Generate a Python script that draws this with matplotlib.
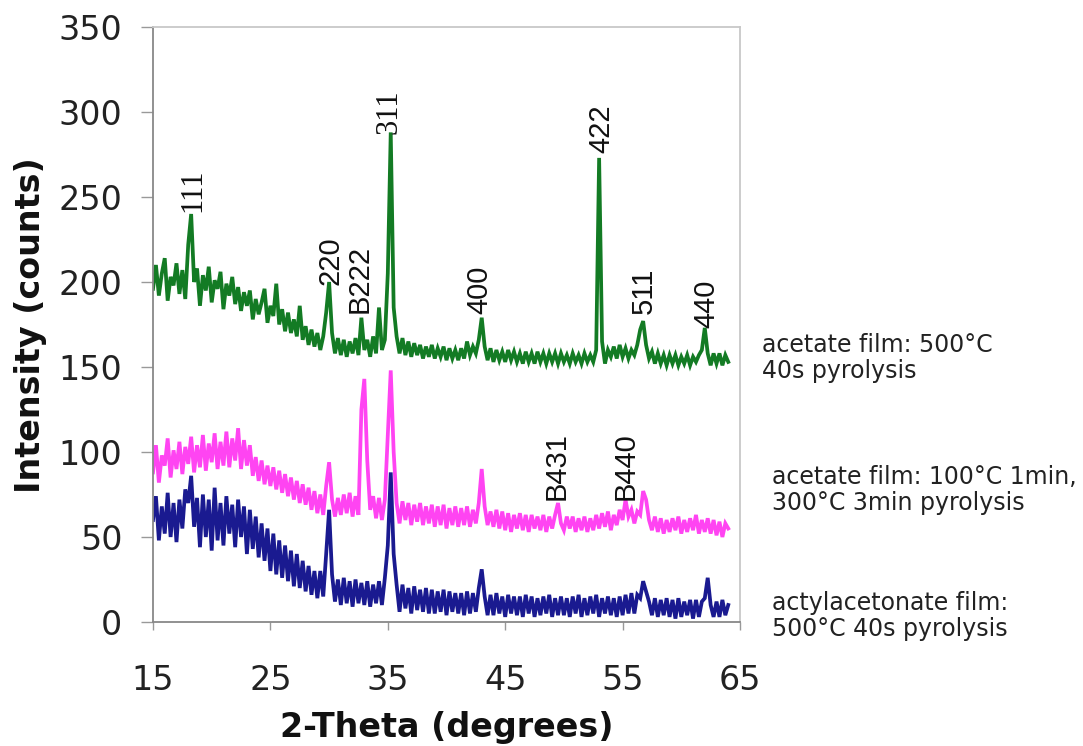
import numpy as np
import matplotlib
matplotlib.use("Agg")
import matplotlib.pyplot as plt

# 2-theta sampling: 15.00 .. 64.00 in 0.25 degree steps (one row = one degree)
two_theta = np.linspace(15.0, 64.0, 197)

acetate_500 = [
    196, 210, 192, 205,   # 15
    214, 189, 203, 198,   # 16
    211, 193, 207, 190,   # 17
    222, 240, 200, 208,   # 18
    186, 204, 195, 209,   # 19
    188, 201, 196, 206,   # 20
    184, 199, 192, 203,   # 21
    187, 197, 183, 194,   # 22
    186, 195, 178, 190,   # 23
    181, 188, 196, 176,   # 24
    186, 180, 199, 175,   # 25
    184, 171, 182, 170,   # 26
    178, 168, 186, 166,   # 27
    174, 163, 172, 162,   # 28
    170, 160, 168, 182,   # 29
    200, 170, 158, 167,   # 30
    157, 166, 156, 165,   # 31
    158, 167, 157, 179,   # 32
    160, 166, 156, 168,   # 33
    158, 185, 160, 166,   # 34
    205, 288, 185, 168,   # 35
    158, 167, 157, 165,   # 36
    156, 164, 157, 163,   # 37
    155, 162, 156, 163,   # 38
    155, 161, 156, 162,   # 39
    154, 161, 155, 160,   # 40
    154, 161, 155, 165,   # 41
    157, 162, 158, 166,   # 42
    179, 162, 154, 161,   # 43
    153, 160, 154, 159,   # 44
    153, 160, 154, 159,   # 45
    153, 158, 152, 159,   # 46
    153, 158, 152, 159,   # 47
    153, 158, 152, 158,   # 48
    153, 158, 152, 158,   # 49
    153, 157, 152, 158,   # 50
    153, 157, 152, 158,   # 51
    153, 157, 153, 160,   # 52
    273, 165, 152, 160,   # 53
    156, 162, 155, 163,   # 54
    156, 161, 155, 160,   # 55
    157, 163, 172, 177,   # 56
    163, 155, 159, 152,   # 57
    158, 152, 157, 151,   # 58
    157, 152, 157, 151,   # 59
    156, 152, 157, 151,   # 60
    156, 153, 157, 160,   # 61
    173, 158, 151, 158,   # 62
    152, 158, 151, 157,   # 63
    153,                  # 64
]

acetate_100_300 = [
    88, 104, 82, 98,      # 15
    92, 108, 85, 101,     # 16
    90, 106, 87, 103,     # 17
    93, 109, 88, 104,     # 18
    91, 110, 89, 105,     # 19
    94, 111, 90, 106,     # 20
    92, 112, 91, 108,     # 21
    95, 114, 90, 107,     # 22
    92, 104, 86, 97,      # 23
    83, 95, 81, 92,       # 24
    80, 91, 78, 89,       # 25
    76, 87, 74, 85,       # 26
    72, 83, 70, 81,       # 27
    69, 79, 66, 77,       # 28
    64, 75, 63, 80,       # 29
    94, 72, 62, 73,       # 30
    63, 75, 64, 76,       # 31
    62, 74, 63, 125,      # 32
    143, 95, 66, 74,      # 33
    61, 73, 60, 72,       # 34
    110, 148, 100, 70,    # 35
    58, 71, 60, 70,       # 36
    57, 69, 59, 70,       # 37
    57, 68, 58, 69,       # 38
    56, 68, 57, 69,       # 39
    55, 67, 57, 68,       # 40
    56, 67, 57, 68,       # 41
    56, 66, 58, 70,       # 42
    90, 68, 57, 65,       # 43
    56, 66, 55, 65,       # 44
    54, 64, 53, 63,       # 45
    55, 64, 54, 63,       # 46
    53, 63, 55, 62,       # 47
    54, 63, 53, 62,       # 48
    55, 63, 70, 58,       # 49
    54, 62, 55, 62,       # 50
    53, 61, 54, 62,       # 51
    53, 61, 54, 63,       # 52
    55, 64, 56, 65,       # 53
    54, 63, 57, 66,       # 54
    60, 72, 62, 66,       # 55
    58, 65, 63, 77,       # 56
    72, 60, 54, 62,       # 57
    53, 61, 52, 60,       # 58
    53, 61, 54, 62,       # 59
    52, 60, 53, 61,       # 60
    54, 63, 52, 60,       # 61
    53, 61, 52, 60,       # 62
    51, 59, 50, 58,       # 63
    55,                   # 64
]

acac_500 = [
    60, 74, 48, 68,       # 15
    52, 76, 50, 70,       # 16
    47, 72, 55, 78,       # 17
    70, 86, 56, 73,       # 18
    44, 75, 50, 72,       # 19
    42, 79, 48, 70,       # 20
    45, 74, 52, 69,       # 21
    44, 72, 50, 68,       # 22
    40, 66, 43, 62,       # 23
    38, 58, 36, 55,       # 24
    30, 52, 28, 48,       # 25
    26, 45, 24, 42,       # 26
    21, 40, 20, 36,       # 27
    18, 33, 16, 30,       # 28
    14, 30, 15, 40,       # 29
    66, 28, 12, 25,       # 30
    10, 26, 11, 24,       # 31
    9, 25, 11, 23,        # 32
    10, 24, 9, 22,        # 33
    11, 24, 10, 26,       # 34
    45, 88, 40, 22,       # 35
    6, 22, 8, 20,         # 36
    5, 21, 7, 19,         # 37
    6, 20, 5, 19,         # 38
    5, 18, 6, 19,         # 39
    4, 18, 6, 17,         # 40
    5, 17, 4, 18,         # 41
    5, 17, 6, 20,         # 42
    31, 15, 4, 16,        # 43
    4, 17, 5, 15,         # 44
    3, 16, 5, 15,         # 45
    4, 15, 3, 16,         # 46
    5, 15, 3, 14,         # 47
    4, 15, 5, 16,         # 48
    3, 14, 4, 15,         # 49
    4, 14, 3, 15,         # 50
    5, 16, 3, 14,         # 51
    4, 15, 5, 16,         # 52
    3, 14, 5, 15,         # 53
    4, 14, 3, 15,         # 54
    4, 16, 5, 17,         # 55
    5, 16, 14, 24,        # 56
    18, 12, 4, 14,        # 57
    3, 13, 4, 14,         # 58
    3, 13, 2, 14,         # 59
    3, 12, 4, 13,         # 60
    2, 13, 3, 12,         # 61
    14, 26, 10, 3,        # 62
    12, 3, 13, 4,         # 63
    10,                   # 64
]

# peak labels: text, 2-theta, intensity at label base, font family
peak_labels = ["111", "220", "B222", "311", "400", "422", "511", "440", "B431", "B440"]
peak_x = [18.4, 30.1, 32.6, 35.1, 42.8, 53.2, 56.8, 62.1, 49.4, 55.3]
peak_y = [241, 198, 182, 287, 181, 276, 181, 173, 72, 72]
peak_serif = [True, False, False, True, False, False, False, False, False, False]

series_labels = ["acetate film: 500°C\n40s pyrolysis",
                 "acetate film: 100°C 1min,\n300°C 3min pyrolysis",
                 "actylacetonate film:\n500°C 40s pyrolysis"]

x_ticks = [15, 25, 35, 45, 55, 65]
y_ticks = [0, 50, 100, 150, 200, 250, 300, 350]

W, H = 1083, 746
fig = plt.figure(figsize=(W / 100, H / 100), dpi=100)
ax = fig.add_axes([153 / W, 1 - 622 / H, (740 - 153) / W, (622 - 27) / H])

colors = ["#137b24", "#ff44f2", "#1a1a90"]
for ys, c in zip([acetate_500, acetate_100_300, acac_500], colors):
    ax.plot(two_theta, ys, color=c, lw=2.7, solid_joinstyle="miter")

for t, px, py, serif in zip(peak_labels, peak_x, peak_y, peak_serif):
    ax.text(px, py, t, rotation=90, ha="center", va="bottom",
            fontsize=21 if not serif else 22,
            family="Liberation Serif" if serif else "Liberation Sans",
            color="#111111")

ax.set_xlim(15, 65)
ax.set_ylim(0, 350)
ax.set_xticks(x_ticks)
ax.set_yticks(y_ticks)
ax.tick_params(axis="x", direction="out", length=6, width=1, color="#999999",
               labelsize=24, pad=24, labelcolor="#222222")
ax.tick_params(axis="y", direction="out", length=9, width=1, color="#999999",
               labelsize=24, pad=13, labelcolor="#222222")
for s in ["left", "bottom"]:
    ax.spines[s].set_color("#888888")
    ax.spines[s].set_linewidth(1.3)
for s in ["top", "right"]:
    ax.spines[s].set_color("#c8c8c8")
    ax.spines[s].set_linewidth(1.3)

ax.set_xlabel("2-Theta (degrees)", fontsize=24, fontweight="bold", va="center",
              color="#111111")
ax.xaxis.set_label_coords(0.5, (622 - 727) / 595)
ax.set_ylabel("Intensity (counts)", fontsize=24, fontweight="bold", va="center",
              color="#111111")
ax.yaxis.set_label_coords((31 - 153) / 587, (622 - 325) / 595)

label_pos = [(762, 358), (772, 490), (772, 616)]
for txt, (lx, ly) in zip(series_labels, label_pos):
    fig.text(lx / W, 1 - ly / H, txt, ha="left", va="center", fontsize=17,
             linespacing=1.15, color="#222222")

fig.savefig("out.png", dpi=100)
